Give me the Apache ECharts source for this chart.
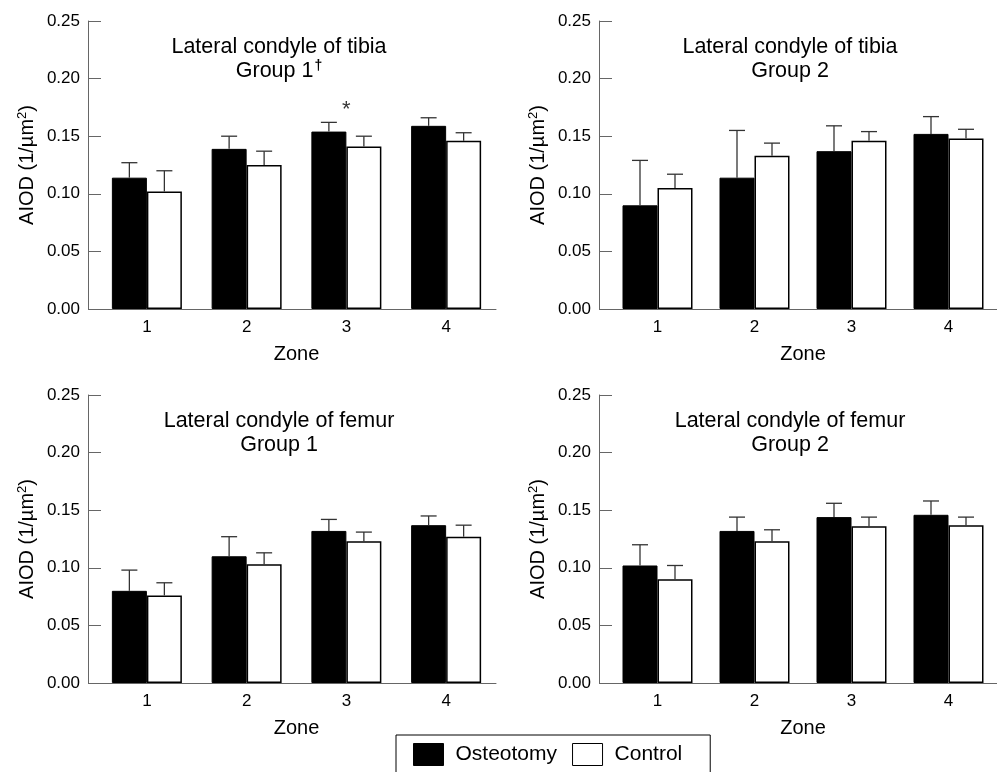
<!DOCTYPE html>
<html>
<head>
<meta charset="utf-8">
<script src="https://cdn.jsdelivr.net/npm/echarts@6/dist/echarts.min.js"></script>
<style>html,body{margin:0;padding:0;background:#fff}#c{width:997px;height:772px}</style>
</head>
<body>
<div id="c"></div>
<script>
// ---- data ----
const zones = ['1', '2', '3', '4'];
const yTicks = [0, 0.05, 0.10, 0.15, 0.20, 0.25];

const tibiaG1Osteo = [0.114, 0.139, 0.154, 0.159];
const tibiaG1OsteoSD = [0.013, 0.011, 0.008, 0.007];
const tibiaG1Ctrl = [0.102, 0.125, 0.141, 0.146];
const tibiaG1CtrlSD = [0.018, 0.012, 0.009, 0.007];

const tibiaG2Osteo = [0.090, 0.114, 0.137, 0.152];
const tibiaG2OsteoSD = [0.039, 0.041, 0.022, 0.015];
const tibiaG2Ctrl = [0.105, 0.133, 0.146, 0.148];
const tibiaG2CtrlSD = [0.012, 0.011, 0.008, 0.008];

const femurG1Osteo = [0.080, 0.110, 0.132, 0.137];
const femurG1OsteoSD = [0.018, 0.017, 0.010, 0.008];
const femurG1Ctrl = [0.076, 0.103, 0.123, 0.127];
const femurG1CtrlSD = [0.011, 0.010, 0.008, 0.010];

const femurG2Osteo = [0.102, 0.132, 0.144, 0.146];
const femurG2OsteoSD = [0.018, 0.012, 0.012, 0.012];
const femurG2Ctrl = [0.090, 0.123, 0.136, 0.137];
const femurG2CtrlSD = [0.012, 0.010, 0.008, 0.007];

// significance marks: [zone index, value, symbol] for tibia group 1
const tibiaG1Sig = [[2, 0.173, '*']];

const panelTitles = [
  ['Lateral condyle of tibia', 'Group 1', '†'],
  ['Lateral condyle of tibia', 'Group 2', ''],
  ['Lateral condyle of femur', 'Group 1', ''],
  ['Lateral condyle of femur', 'Group 2', '']
];
const seriesNames = ['Osteotomy', 'Control'];

// ---- layout ----
const FONT = 'Liberation Sans, Arial, Helvetica, sans-serif';
const BAR_W = 35;
const panels = [
  {left: 97, top: 21, width: 399, height: 288, offset: 9, titleX: 279, titleY: 35,
   osteo: tibiaG1Osteo, osteoSD: tibiaG1OsteoSD, ctrl: tibiaG1Ctrl, ctrlSD: tibiaG1CtrlSD},
  {left: 609, top: 21, width: 397, height: 288, offset: 10, titleX: 790, titleY: 35,
   osteo: tibiaG2Osteo, osteoSD: tibiaG2OsteoSD, ctrl: tibiaG2Ctrl, ctrlSD: tibiaG2CtrlSD},
  {left: 97, top: 395, width: 399, height: 288, offset: 9, titleX: 279, titleY: 409,
   osteo: femurG1Osteo, osteoSD: femurG1OsteoSD, ctrl: femurG1Ctrl, ctrlSD: femurG1CtrlSD},
  {left: 609, top: 395, width: 397, height: 288, offset: 10, titleX: 790, titleY: 409,
   osteo: femurG2Osteo, osteoSD: femurG2OsteoSD, ctrl: femurG2Ctrl, ctrlSD: femurG2CtrlSD}
];

function errData(means, sds) {
  return means.map((m, i) => [i, m, m + sds[i]]);
}
function errSeries(idx, data, shift) {
  return {
    type: 'custom', xAxisIndex: idx, yAxisIndex: idx, z: 5, silent: true,
    data: data,
    renderItem: function (params, api) {
      const b = api.coord([api.value(0), api.value(1)]);
      const t = api.coord([api.value(0), api.value(2)]);
      const x = b[0] + shift;
      const st = {stroke: '#333', lineWidth: 1.3};
      return {type: 'group', children: [
        {type: 'line', shape: {x1: x, y1: b[1], x2: x, y2: t[1]}, style: st},
        {type: 'line', shape: {x1: x - 8, y1: t[1], x2: x + 8, y2: t[1]}, style: st}
      ]};
    }
  };
}

const grids = [], xAxes = [], yAxes = [], titles = [], series = [];
panels.forEach((p, i) => {
  grids.push({left: p.left, top: p.top, width: p.width, height: p.height});
  xAxes.push({
    type: 'category', gridIndex: i, data: zones,
    axisLine: {lineStyle: {color: '#666', width: 1}},
    axisTick: {show: false},
    axisLabel: {color: '#000', fontSize: 17, fontFamily: FONT, margin: 10},
    name: 'Zone', nameLocation: 'middle', nameGap: 35,
    nameTextStyle: {color: '#000', fontSize: 20, fontFamily: FONT}
  });
  yAxes.push({
    type: 'value', gridIndex: i, min: 0, max: 0.25, interval: 0.05,
    offset: p.offset,
    axisLine: {show: true, lineStyle: {color: '#666', width: 1}},
    axisTick: {show: true, inside: true, length: 13, lineStyle: {color: '#666'}},
    axisLabel: {color: '#000', fontSize: 17, fontFamily: FONT, margin: 8,
      formatter: v => v.toFixed(2)},
    splitLine: {show: false},
    name: 'AIOD (1/µm{sup|2})', nameLocation: 'middle', nameRotate: 90, nameGap: 50,
    nameTextStyle: {color: '#000', fontSize: 20, fontFamily: FONT,
      rich: {sup: {fontSize: 13, fontFamily: FONT, color: '#000', padding: [0, 0, 9, 0]}}}
  });
  const tt = panelTitles[i];
  titles.push({
    text: '{a|' + tt[0] + '}\n{a|' + tt[1] + '}' + (tt[2] ? '{s|' + tt[2] + '}' : ''),
    left: p.titleX, top: p.titleY, textAlign: 'center', padding: 0,
    textStyle: {
      rich: {
        a: {fontSize: 21.5, fontFamily: FONT, color: '#000', lineHeight: 24, fontWeight: 'normal'},
        s: {fontSize: 14, fontFamily: FONT, color: '#000', lineHeight: 24, padding: [0, 0, 10, 1]}
      }
    }
  });
  series.push({
    type: 'bar', name: seriesNames[0], xAxisIndex: i, yAxisIndex: i,
    data: p.osteo, barWidth: BAR_W, barGap: '0%',
    itemStyle: {color: '#000', borderColor: '#000', borderWidth: 1}
  });
  series.push({
    type: 'bar', name: seriesNames[1], xAxisIndex: i, yAxisIndex: i,
    data: p.ctrl, barWidth: BAR_W, barGap: '0%',
    itemStyle: {color: '#fff', borderColor: '#000', borderWidth: 1.5}
  });
  series.push(errSeries(i, errData(p.osteo, p.osteoSD), -BAR_W / 2));
  series.push(errSeries(i, errData(p.ctrl, p.ctrlSD), BAR_W / 2));
});

series.push({
  type: 'scatter', xAxisIndex: 0, yAxisIndex: 0, symbolSize: 0, silent: true, z: 6,
  data: tibiaG1Sig.map(d => [d[0], d[1], d[2]]),
  label: {show: true, position: 'inside', formatter: p => p.data[2],
    color: '#000', fontSize: 22, fontFamily: FONT}
});

const option = {
  animation: false,
  backgroundColor: '#fff',
  title: titles,
  grid: grids,
  xAxis: xAxes,
  yAxis: yAxes,
  legend: {
    data: seriesNames, left: 396, top: 735, icon: 'rect',
    orient: 'horizontal', itemWidth: 30, itemHeight: 22, itemGap: 15,
    borderColor: '#000', borderWidth: 1, padding: [8, 28, 20, 17],
    itemStyle: {borderWidth: 1},
    textStyle: {color: '#000', fontSize: 21, fontFamily: FONT, padding: [0, 0, 0, 7]},
    selectedMode: false
  },
  series: series
};

const chart = echarts.init(document.getElementById('c'), null, {renderer: 'canvas'});
chart.setOption(option);
</script>
</body>
</html>
